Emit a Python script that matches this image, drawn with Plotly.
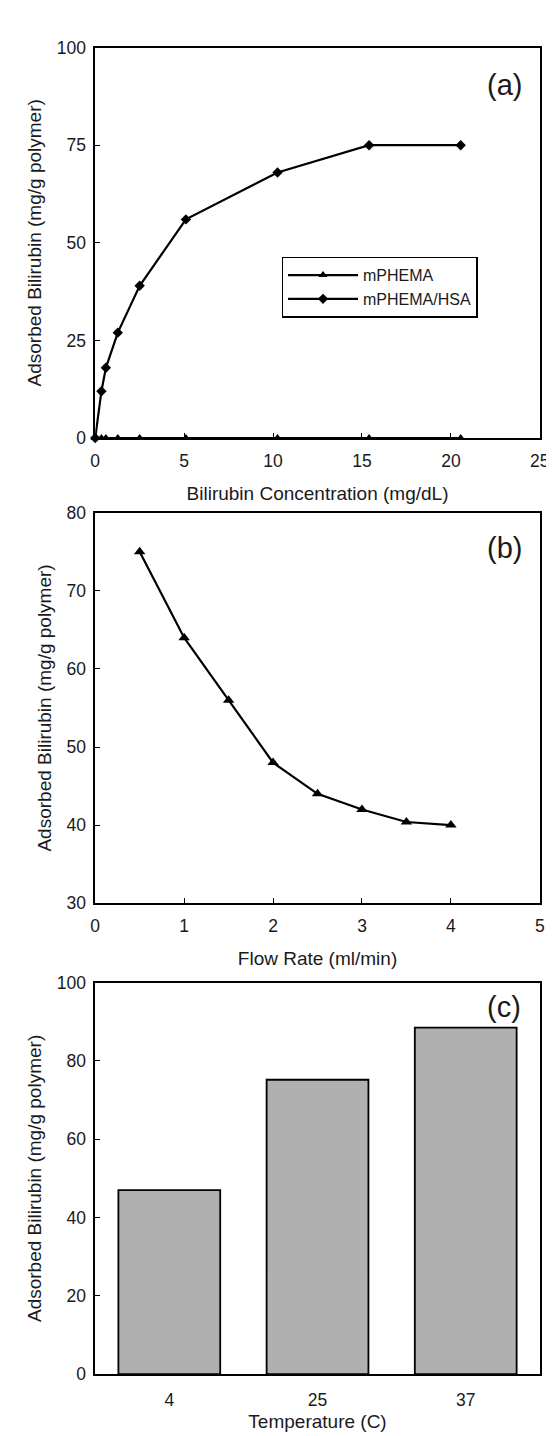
import plotly.graph_objects as go

# ---- data ----
conc = [0, 0.35, 0.6, 1.27, 2.5, 5.1, 10.25, 15.4, 20.55]
mphema = [0, 0, 0, 0, 0, 0, 0, 0, 0]
mphema_hsa = [0, 12, 18, 27, 39, 56, 68, 75, 75]

flow = [0.5, 1, 1.5, 2, 2.5, 3, 3.5, 4]
adsorbed_flow = [75, 64, 56, 48, 44, 42, 40.4, 40]

temps = ["4", "25", "37"]
adsorbed_temp = [47, 75.2, 88.5]

W, H = 554, 1436
FONT = "Arial, Liberation Sans, Helvetica, sans-serif"
TXT = "#1a1a1a"

def px_x(p):
    return p / W

def px_y(p):
    return 1 - p / H

xdom = [px_x(84.5), px_x(541.5)]
ydom_a = [px_y(426), px_y(30)]
ydom_b = [px_y(897.7), px_y(501.7)]
ydom_c = [px_y(1375.3), px_y(978.3)]

fig = go.Figure()

fig.add_trace(go.Scatter(
    x=conc, y=mphema, name="mPHEMA", mode="lines+markers",
    line=dict(color="black", width=2.2),
    marker=dict(symbol="triangle-up", size=8, color="black"),
    cliponaxis=False, xaxis="x", yaxis="y"))
fig.add_trace(go.Scatter(
    x=conc, y=mphema_hsa, name="mPHEMA/HSA", mode="lines+markers",
    line=dict(color="black", width=2.2),
    marker=dict(symbol="diamond", size=8, color="black"),
    cliponaxis=False, xaxis="x", yaxis="y"))

fig.add_trace(go.Scatter(
    x=flow, y=adsorbed_flow, name="flow", mode="lines+markers",
    line=dict(color="black", width=2.2),
    marker=dict(symbol="triangle-up", size=10, color="black"),
    cliponaxis=False, showlegend=False, xaxis="x2", yaxis="y2"))

fig.add_trace(go.Bar(
    x=temps, y=adsorbed_temp, name="temp", width=0.687,
    marker=dict(color="#b0b0b0", line=dict(color="black", width=1.8)),
    showlegend=False, xaxis="x3", yaxis="y3"))

common = dict(
    showline=True, linecolor="black", linewidth=1.5, mirror=True,
    showgrid=False, zeroline=False, ticks="inside", ticklen=5,
    tickwidth=1.2, tickcolor="black",
    tickfont=dict(family=FONT, size=17.5, color=TXT),
)
title_font = dict(family=FONT, size=19, color=TXT)
ytitle = "Adsorbed Bilirubin (mg/g polymer)"

fig.update_layout(
    width=W, height=H,
    margin=dict(l=0, r=0, t=0, b=0),
    paper_bgcolor="white", plot_bgcolor="white",
    font=dict(family=FONT, color=TXT),
    showlegend=True,
    legend=dict(
        x=px_x(276), y=px_y(242), xanchor="left", yanchor="top",
        bordercolor="black", borderwidth=1.5, bgcolor="white",
        font=dict(family=FONT, size=16, color=TXT),
        itemwidth=70,
    ),
    xaxis=dict(common, domain=xdom, anchor="y", range=[0, 25], dtick=5,
               ticklabelstandoff=6,
               title=dict(text="Bilirubin Concentration (mg/dL)", font=title_font, standoff=17)),
    yaxis=dict(common, domain=ydom_a, anchor="x", range=[0, 100], dtick=25,
               ticklabelstandoff=4,
               title=dict(text=ytitle, font=title_font, standoff=10)),
    xaxis2=dict(common, domain=xdom, anchor="y2", range=[0, 5], dtick=1,
                ticklabelstandoff=6,
                title=dict(text="Flow Rate (ml/min)", font=title_font, standoff=17)),
    yaxis2=dict(common, domain=ydom_b, anchor="x2", range=[30, 80], dtick=10,
                ticklabelstandoff=4,
                title=dict(text=ytitle, font=title_font, standoff=10)),
    xaxis3=dict(common, domain=xdom, anchor="y3", ticks="", range=[-0.5, 2.5],
                type="category", ticklabelstandoff=9,
                title=dict(text="Temperature (C)", font=title_font, standoff=6)),
    yaxis3=dict(common, domain=ydom_c, anchor="x3", range=[0, 100], dtick=20,
                ticklabelstandoff=4,
                title=dict(text=ytitle, font=title_font, standoff=10)),
)

for label, cy in [("(a)", 68), ("(b)", 537), ("(c)", 1003)]:
    fig.add_annotation(
        text=label, x=px_x(505), y=px_y(cy), xref="paper", yref="paper",
        xanchor="center", yanchor="middle", showarrow=False,
        font=dict(family=FONT, size=29, color=TXT))

fig.write_html("out.html")
